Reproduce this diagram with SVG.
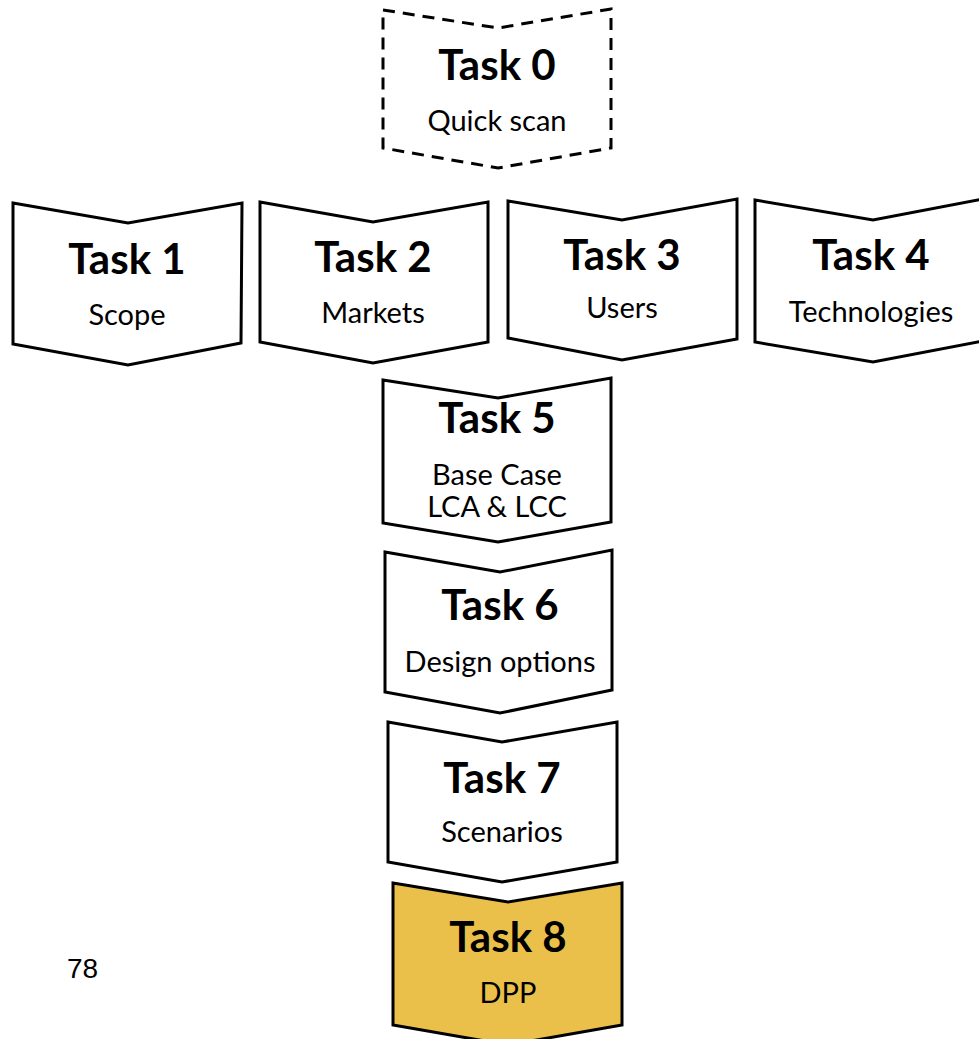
<svg xmlns="http://www.w3.org/2000/svg" width="979" height="1039" viewBox="0 0 979 1039">
<style>
.shape{fill:#ffffff;stroke:#000000;stroke-width:3;stroke-linejoin:miter}
.dashed{stroke-dasharray:12 8}
.hl{fill:#EAC04A}
.title{font-family:Lato,"Noto Sans",sans-serif;font-weight:700;font-size:42px;fill:#000;text-anchor:middle}
.sub{font-family:Lato,"Noto Sans",sans-serif;font-size:29px;fill:#000;text-anchor:middle}
.pg{font-family:"Liberation Sans",Arial,sans-serif;font-size:28px;fill:#000}
</style>
<rect width="979" height="1039" fill="#ffffff"/>
<g id="connectors"></g>
<g id="task0">
<polygon class="shape dashed" points="383,10 498,28 611,9 611,148 498,168 383,148"/>
<text class="title" x="497" y="80">Task 0</text>
<text class="sub" x="497" y="131">Quick scan</text>
</g>
<g id="task1">
<polygon class="shape" points="13,203 128,223 242,203 241,343 128,365 13,344"/>
<text class="title" x="127" y="274">Task 1</text>
<text class="sub" x="127" y="325">Scope</text>
</g>
<g id="task2">
<polygon class="shape" points="260,202 373,222 488,202 488,342 373,363 260,342"/>
<text class="title" x="373" y="272">Task 2</text>
<text class="sub" x="373" y="323">Markets</text>
</g>
<g id="task3">
<polygon class="shape" points="508,201 622,220 737,199 737,339 622,360 508,338"/>
<text class="title" x="622" y="270">Task 3</text>
<text class="sub" x="622" y="318">Users</text>
</g>
<g id="task4">
<polygon class="shape" points="755,200 873,220 988,198 988,340 873,362 755,342"/>
<text class="title" x="871" y="270">Task 4</text>
<text class="sub" x="871" y="322">Technologies</text>
</g>
<g id="task5">
<polygon class="shape" points="383,380 498,398 611,378 611,522 498,542 383,523"/>
<text class="title" x="497" y="433">Task 5</text>
<text class="sub" x="497" y="485">Base Case</text>
<text class="sub" x="497" y="517">LCA &amp; LCC</text>
</g>
<g id="task6">
<polygon class="shape" points="385,552 500,572 612,550 612,690 500,713 385,692"/>
<text class="title" x="500" y="620">Task 6</text>
<text class="sub" x="500" y="672">Design options</text>
</g>
<g id="task7">
<polygon class="shape" points="388,722 502,742 617,722 617,862 502,882 388,862"/>
<text class="title" x="502" y="793">Task 7</text>
<text class="sub" x="502" y="842">Scenarios</text>
</g>
<g id="task8">
<polygon class="shape hl" points="393,883 508,902 622,883 622,1025 508,1045 393,1025"/>
<text class="title" x="508" y="952">Task 8</text>
<text class="sub" x="508" y="1003">DPP</text>
</g>
<text class="pg" x="67" y="978">78</text>
</svg>
